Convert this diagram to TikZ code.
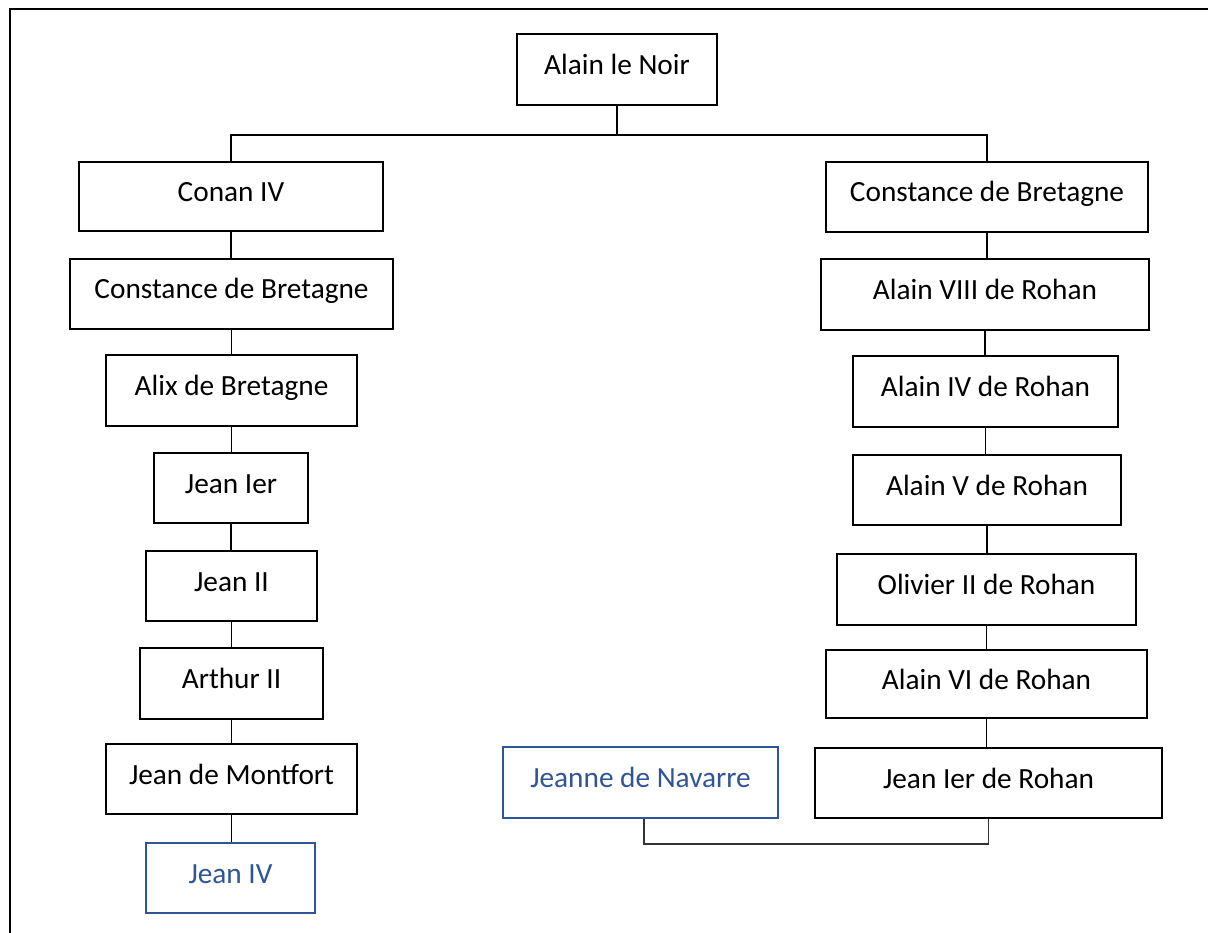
\documentclass[tikz,border=0pt]{standalone}
\usepackage{fontspec}
\setmainfont{Carlito}
\definecolor{nblue}{RGB}{47,85,151}
\begin{document}
\begin{tikzpicture}[x=1pt,y=-1pt,
  pbox/.style={draw=black, line width=2.4pt, rectangle, inner sep=0pt,
    font=\fontsize{29.3}{35}\selectfont, text height=20pt, text depth=10pt, align=center},
  bluebox/.style={pbox, draw=nblue, text=nblue},
  conn/.style={draw=black, line width=1.2pt}]
\useasboundingbox (0,0) rectangle (1208,933);
\draw[line width=2pt] (10,940) -- (10,9) -- (1215,9);
% top
\node[pbox, minimum width=200, minimum height=71] (noir) at (617,69.5) {Alain le Noir};
% left column
\node[pbox, minimum width=304, minimum height=69] (conan) at (231,196.5) {Conan IV};
\node[pbox, minimum width=323, minimum height=70] (cL) at (231.5,294) {Constance de Bretagne};
\node[pbox, minimum width=251, minimum height=71] (alix) at (231.5,390.5) {Alix de Bretagne};
\node[pbox, minimum width=154, minimum height=70] (j1) at (231,488) {Jean Ier};
\node[pbox, minimum width=171, minimum height=70] (j2) at (231.5,586) {Jean II};
\node[pbox, minimum width=183, minimum height=71] (arthur) at (231.5,683.5) {Arthur II};
\node[pbox, minimum width=251, minimum height=70] (jm) at (231.5,779) {Jean de Montfort};
\node[bluebox, minimum width=169, minimum height=70] (j4) at (230.5,878) {Jean IV};
% right column
\node[pbox, minimum width=322, minimum height=70] (cR) at (987,197) {Constance de Bretagne};
\node[pbox, minimum width=328, minimum height=71] (a8) at (985,294.5) {Alain VIII de Rohan};
\node[pbox, minimum width=265, minimum height=71] (a4) at (985.5,391.5) {Alain IV de Rohan};
\node[pbox, minimum width=268, minimum height=70] (a5) at (987,490) {Alain V de Rohan};
\node[pbox, minimum width=299, minimum height=71] (ol) at (986.5,589.5) {Olivier II de Rohan};
\node[pbox, minimum width=321, minimum height=68] (a6) at (986.5,684) {Alain VI de Rohan};
\node[pbox, minimum width=347, minimum height=70] (jr) at (988.5,783) {Jean Ier de Rohan};
\node[bluebox, minimum width=275, minimum height=71] (jn) at (640.5,782.5) {Jeanne de Navarre};
% connectors
\coordinate (topbar) at (0,135);
\coordinate (botbar) at (0,844);
\draw[conn] (noir.south) -- (noir.south |- topbar);
\draw[conn] (conan.north) -- (conan.north |- topbar) -- (cR.north |- topbar) -- (cR.north);
\foreach \a/\b in {conan/cL, cL/alix, alix/j1, j1/j2, j2/arthur, arthur/jm, jm/j4,
                   cR/a8, a8/a4, a4/a5, a5/ol, ol/a6, a6/jr}
  \draw[conn] (\a.south) -- (\a.south |- \b.north);
\draw[conn, draw=black!80] ([xshift=3.5pt]jn.south) -- ([xshift=3.5pt]jn.south |- botbar) -| (jr.south);
\end{tikzpicture}
\end{document}
